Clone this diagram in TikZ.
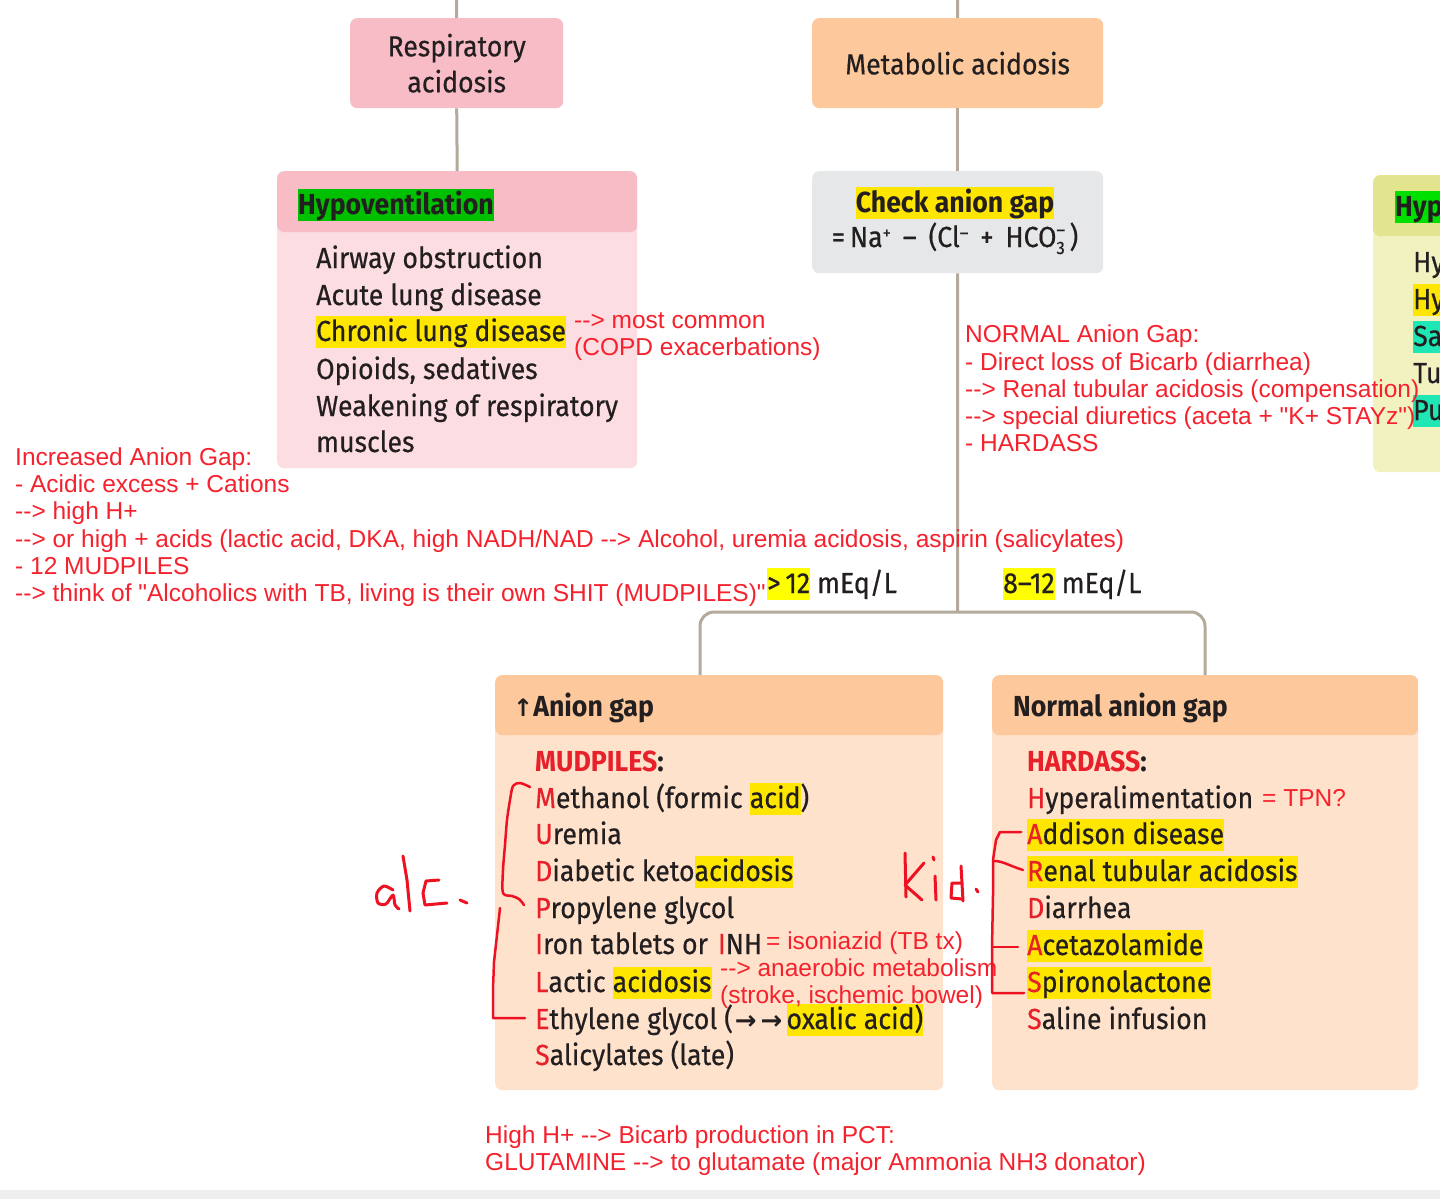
\documentclass[tikz,border=0pt]{standalone}
\usepackage{fontspec}
\setmainfont{Fira Sans}
\newfontfamily\boxf{Fira Sans}[FakeStretch=0.92, FakeBold=0.5]
\newfontfamily\headf{Fira Sans}[FakeStretch=0.92]
\newfontfamily\redf{Liberation Sans}
\newfontfamily\symf{DejaVu Sans}
\definecolor{txt}{HTML}{231F20}
\definecolor{redann}{HTML}{F5222D}
\definecolor{redbox}{HTML}{E8202A}
\definecolor{handred}{HTML}{EE1122}
\definecolor{conncol}{HTML}{B4AA9C}
\definecolor{pinkhead}{HTML}{F8BCC6}
\definecolor{pinkbody}{HTML}{FCDDE1}
\definecolor{peachhead}{HTML}{FDC99C}
\definecolor{peachbody}{HTML}{FEE2CC}
\definecolor{graybox}{HTML}{E6E7E8}
\definecolor{limehead}{HTML}{E3E58E}
\definecolor{limebody}{HTML}{F1F2C0}
\definecolor{hlyel}{HTML}{FFE600}
\definecolor{hlyel2}{HTML}{FFFF00}
\definecolor{hlgreen}{HTML}{00C000}
\definecolor{hlgreen2}{HTML}{00E000}
\definecolor{hlteal}{HTML}{1EE6B4}
\definecolor{bandgray}{HTML}{EFEFEF}
\newcommand\hlt[2][hlyel]{{\setlength{\fboxsep}{0pt}\colorbox{#1}{\rule[-7pt]{0pt}{32pt}#2}}}
\newcommand\arr{-\kern0pt-\kern0pt>}
\newcommand\rd[1]{\textcolor{redbox}{#1}}
\newcommand\smallidx[1]{{\fontsize{18}{18}\selectfont #1}}
\begin{document}
\begin{tikzpicture}[x=1pt,y=-1pt,
  conn/.style={draw=conncol, line width=3pt},
  flat/.style={rounded corners=7pt, inner sep=0pt, anchor=north west},
  twobox/.style n args={3}{rounded corners=7pt, inner sep=0pt, anchor=north west, fill=#2,
    path picture={\fill[#1] (path picture bounding box.north west) rectangle ([yshift=-#3 pt]path picture bounding box.north east);}},
  boxtxt/.style={anchor=base west, inner sep=0pt, text=txt, font=\boxf\fontsize{29}{36}\selectfont},
  headtxt/.style={anchor=base west, inner sep=0pt, text=txt, font=\headf\bfseries\fontsize{29}{36}\selectfont},
  ann/.style={anchor=base west, inner sep=0pt, text=redann, font=\redf\fontsize{24.5}{27}\selectfont},
  hand/.style={draw=handred, line width=3pt, line cap=round, line join=round}]
\useasboundingbox (0,0) rectangle (1440,1199);
\clip (0,0) rectangle (1440,1199);
\fill[white] (0,0) rectangle (1440,1199);
\fill[bandgray] (0,1190) rectangle (1440,1199);

% ---------- boxes ----------
\node[flat, fill=pinkhead, minimum width=213pt, minimum height=90pt, align=center, text=txt,
      font=\boxf\fontsize{29}{36}\selectfont] (resp) at (350,18) {Respiratory\\acidosis};
\node[flat, fill=peachhead, minimum width=291pt, minimum height=90pt, text=txt,
      font=\boxf\fontsize{29}{36}\selectfont] (metab) at (812,18) {Metabolic acidosis};
\node[twobox={pinkhead}{pinkbody}{61}, minimum width=360pt, minimum height=297pt] (hypo) at (277,171) {};
\node[flat, fill=graybox, minimum width=291pt, minimum height=102pt] (check) at (812,171) {};
\node[twobox={limehead}{limebody}{61}, minimum width=200pt, minimum height=297pt] (ralk) at (1373,175) {};
\node[twobox={peachhead}{peachbody}{60}, minimum width=448pt, minimum height=415pt] (incr) at (495,675) {};
\node[twobox={peachhead}{peachbody}{60}, minimum width=426pt, minimum height=415pt] (norm) at (992,675) {};

% ---------- connectors ----------
\coordinate (rtop) at (456.5,0);
\coordinate (mtop) at (957.5,0);
\coordinate (split) at (957.5,612);
\coordinate (ljoin) at (700,675);
\coordinate (rjoin) at (1205,675);
\draw[conn] (rtop) -- (resp.north);
\draw[conn] (resp.south) -- (hypo.north);
\draw[conn] (mtop) -- (metab.north);
\draw[conn] (metab.south) -- (check.north);
\draw[conn] (check.south) -- (split);
\draw[conn, rounded corners=14pt] (ljoin) |- (split) -| (rjoin);

% ---------- hypoventilation ----------
\node[headtxt] (hyhead) at (298,214) {\hlt[hlgreen]{Hypoventilation}};
\node[boxtxt] (hy1) at (316,268) {Airway obstruction};
\node[boxtxt] (hy2) at (316,305) {Acute lung disease};
\node[boxtxt] (hy3) at (316,341) {\hlt{Chronic lung disease}};
\node[boxtxt] (hy4) at (316,379) {Opioids, sedatives};
\node[boxtxt] (hy5) at (316,416) {Weakening of respiratory};
\node[boxtxt] (hy6) at (316,452) {muscles};

% ---------- check anion gap ----------
\node[headtxt, anchor=base] (chk1) at (955,212) {\hlt{Check anion gap}};
\node[boxtxt, anchor=base] (chk2) at (955,247) {=\,Na\raisebox{8pt}{\smallidx{+}}\, – \,(Cl\raisebox{8pt}{\smallidx{–}}\, + \,HCO\rlap{\raisebox{11pt}{\smallidx{–}}}\raisebox{-7pt}{\smallidx{3}}\,)};

% ---------- right partial box ----------
\node[headtxt] (rk0) at (1395,216) {\hlt[hlgreen2]{Hyp}};
\node[boxtxt] (rk1) at (1413,272) {Hy};
\node[boxtxt] (rk2) at (1413,309) {\hlt{Hy}};
\node[boxtxt] (rk3) at (1413,346) {\hlt[hlteal]{Sa}};
\node[boxtxt] (rk4) at (1413,383) {Tu};
\node[boxtxt] (rk5) at (1413,420) {\hlt[hlteal]{Pu}};

% ---------- mEq labels ----------
\node[boxtxt] (gt12) at (767,593) {\hlt[hlyel2]{>\,12} mEq/L};
\node[boxtxt] (n812) at (1003,593) {\hlt[hlyel2]{8–12} mEq/L};

% ---------- increased anion gap box ----------
\node[headtxt] (ihead) at (513,716) {{\symf\bfseries\fontsize{24}{24}\selectfont ↑}Anion gap};
\node[boxtxt] (i0) at (535,771) {{\headf\bfseries\rd{MUDPILES}:}};
\node[boxtxt] (i1) at (535,808) {\rd{M}ethanol (formic \hlt{acid})};
\node[boxtxt] (i2) at (535,844) {\rd{U}remia};
\node[boxtxt] (i3) at (535,881) {\rd{D}iabetic keto\hlt{acidosis}};
\node[boxtxt] (i4) at (535,918) {\rd{P}ropylene glycol};
\node[boxtxt] (i5) at (535,954) {\rd{I}ron tablets or\hspace{10pt}\rd{I}NH};
\node[boxtxt] (i6) at (535,992) {\rd{L}actic \hlt{acidosis}};
\node[boxtxt] (i7) at (535,1029) {\rd{E}thylene glycol (\hspace{2pt}{\symf\bfseries\fontsize{26}{26}\selectfont →\hspace{4pt}→}\hspace{4pt}\hlt{oxalic acid)}};
\node[boxtxt] (i8) at (535,1065) {\rd{S}alicylates (late)};

% ---------- normal anion gap box ----------
\node[headtxt] (nhead) at (1013,716) {Normal anion gap};
\node[boxtxt] (n0) at (1027,771) {{\headf\bfseries\rd{HARDASS}:}};
\node[boxtxt] (n1) at (1027,808) {\rd{H}yperalimentation};
\node[boxtxt] (n2) at (1027,844) {\hlt{\rd{A}ddison disease}};
\node[boxtxt] (n3) at (1027,881) {\hlt{\rd{R}enal tubular acidosis}};
\node[boxtxt] (n4) at (1027,918) {\rd{D}iarrhea};
\node[boxtxt] (n5) at (1027,955) {\hlt{\rd{A}cetazolamide}};
\node[boxtxt] (n6) at (1027,992) {\hlt{\rd{S}pironolactone}};
\node[boxtxt] (n7) at (1027,1029) {\rd{S}aline infusion};

% ---------- red annotations ----------
\node[ann] (a1) at (574,328.5) {\arr{} most common};
\node[ann] (a2) at (574,355.5) {(COPD exacerbations)};

\node[ann] (b1) at (965,342.5) {NORMAL Anion Gap:};
\node[ann] (b2) at (965,370.5) {- Direct loss of Bicarb (diarrhea)};
\node[ann] (b3) at (965,397.5) {\arr{} Renal tubular acidosis (compensation)};
\node[ann] (b4) at (965,424.5) {\arr{} special diuretics (aceta + "K+ STAYz")};
\node[ann] (b5) at (965,451.5) {- HARDASS};

\node[ann] (c1) at (15,465.5) {Increased Anion Gap:};
\node[ann] (c2) at (15,492.5) {- Acidic excess + Cations};
\node[ann] (c3) at (15,519.5) {\arr{} high H+};
\node[ann] (c4) at (15,547.5) {\arr{} or high + acids (lactic acid, DKA, high NADH/NAD \arr{} Alcohol, uremia acidosis, aspirin (salicylates)};
\node[ann] (c5) at (15,574.5) {- 12 MUDPILES};
\node[ann] (c6) at (15,601.5) {\arr{} think of "Alcoholics with TB, living is their own SHIT (MUDPILES)"};

\node[ann] (d1) at (766,949.5) {= isoniazid (TB tx)};
\node[ann] (d2) at (720,976.5) {\arr{} anaerobic metabolism};
\node[ann] (d3) at (720,1003.5) {(stroke, ischemic bowel)};
\node[ann] (d4) at (1262,806) {= TPN?};

\node[ann] (e1) at (485,1143.5) {High H+ \arr{} Bicarb production in PCT:};
\node[ann] (e2) at (485,1170.5) {GLUTAMINE \arr{} to glutamate (major Ammonia NH3 donator)};

% ---------- handwriting ----------
\draw[hand, line width=2.5pt] plot[smooth] coordinates {(530,787) (520,783) (513,786) (510,800) (507,820) (505,845) (503,870) (503,893) (512,896) (519,899) (524,905)};
\draw[hand, line width=2.5pt] (500,908) -- (497,935) -- (494,962) -- (493,990) -- (493,1018) -- (525,1018);
\draw[hand, line width=2.5pt] (1021,832) -- (1000,832) -- (996,840) -- (993,860) -- (993,895) -- (992,947) -- (992,993) -- (1024,993);
\draw[hand, line width=2.5pt] (994,861) .. controls (1003,861) and (1010,866) .. (1023,870);
\draw[hand, line width=2.5pt] (992,947) -- (1018,947);
% alc.
\draw[hand] plot[smooth] coordinates {(393,890) (384,886) (377,893) (378,903) (386,904) (393,895) (395,905) (399,909)};
\draw[hand] (403,856) -- (407,880) -- (410,911);
\draw[hand] (439,880) -- (426,881) -- (423,893) -- (425,905) -- (447,903);
\draw[hand] (460,900) -- (467,903);
% kid.
\draw[hand] (905,853) -- (906,897);
\draw[hand] (924,863) -- (905,885) -- (922,900);
\draw[hand] (933,857) -- (934,860);
\draw[hand] (935,876) -- (936,900);
\draw[hand] (961,866) -- (963,901);
\draw[hand] (962,883) -- (952,883) -- (951,898) -- (962,899);
\draw[hand] (976,889) -- (978,892);
\end{tikzpicture}
\end{document}
